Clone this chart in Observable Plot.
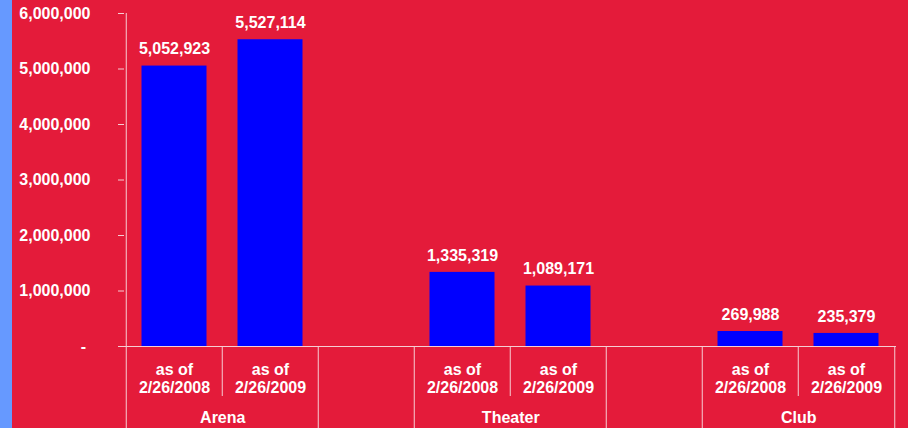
<!DOCTYPE html>
<html><head><meta charset="utf-8">
<script src="https://cdn.jsdelivr.net/npm/d3@7"></script>
<script src="https://cdn.jsdelivr.net/npm/@observablehq/plot@0.6"></script>
<style>
html,body{margin:0;padding:0;background:#E41B3A;overflow:hidden}
#wrap{position:relative;width:908px;height:428px}
#strip{position:absolute;left:0;top:0;width:12px;height:428px;background:#6699FF}
</style></head><body><div id="wrap"><div id="strip"></div></div>
<script>
const slots = ["A08","A09","gap1","T08","T09","gap2","C08","C09"];
const barSlots = ["A08","A09","T08","T09","C08","C09"];
const values = [5052923, 5527114, 1335319, 1089171, 269988, 235379];
const dateLabels = ["as of\n2/26/2008","as of\n2/26/2009","as of\n2/26/2008","as of\n2/26/2009","as of\n2/26/2008","as of\n2/26/2009"];
const groups = ["Arena","Theater","Club"];
const groupStartSlots = ["A08","T08","C08"];
const yTicks = [0, 1000000, 2000000, 3000000, 4000000, 5000000, 6000000];
const axisSlot = ["A08"];
const fullRuleLeftSlots = ["gap1","T08","gap2","C08"];
const fullRuleRightSlots = ["C09"];
const shortRuleSlots = ["A09","T09","C09"];

const W = 908, H = 428, mL = 124, mR = 12, mT = 13, mB = 82;
const step = (W - mL - mR) / slots.length;
const plotH = H - mT - mB;
const lineColor = "#f6cdd3";

const bars = barSlots.map((s, i) => ({slot: s, value: values[i], date: dateLabels[i]}));
const groupData = groups.map((g, i) => ({slot: groupStartSlots[i], name: g}));
const fmt = d3.format(",");

const chart = Plot.plot({
  width: W, height: H,
  marginLeft: mL, marginRight: mR, marginTop: mT, marginBottom: mB,
  style: {background: "transparent", color: "white", fontFamily: "'Liberation Sans', Arial, sans-serif", fontSize: "16px", fontWeight: "bold", overflow: "visible"},
  x: {domain: slots, padding: 0, axis: null},
  y: {domain: [0, 6000000], axis: null},
  marks: [
    Plot.barY(bars, {x: "slot", y: "value", fill: "#0000FF", insetLeft: 15.5, insetRight: 15.5}),
    Plot.axisY({ticks: yTicks, label: null, tickFormat: d => d === 0 ? "-\u00a0" : fmt(d), tickSize: 6, tickPadding: 28, stroke: lineColor, fill: "white", fontSize: 16, fontWeight: "bold"}),
    Plot.ruleY([0], {stroke: lineColor}),
    Plot.ruleX(axisSlot, {x: d => d, dx: -step / 2, stroke: lineColor, insetTop: 0, insetBottom: -mB}),
    Plot.ruleX(fullRuleLeftSlots, {x: d => d, dx: -step / 2, stroke: lineColor, insetTop: plotH, insetBottom: -mB}),
    Plot.ruleX(fullRuleRightSlots, {x: d => d, dx: step / 2, stroke: lineColor, insetTop: plotH, insetBottom: -mB}),
    Plot.ruleX(shortRuleSlots, {x: d => d, dx: -step / 2, stroke: lineColor, insetTop: plotH, insetBottom: -50}),
    Plot.text(bars, {x: "slot", y: "value", text: d => fmt(d.value), dy: -17, fill: "white", fontSize: 16, fontWeight: "bold"}),
    Plot.text(bars, {x: "slot", text: "date", frameAnchor: "bottom", dy: 32, lineAnchor: "middle", lineHeight: 1.125, fill: "white", fontSize: 16, fontWeight: "bold"}),
    Plot.text(groupData, {x: "slot", text: "name", dx: step / 2, frameAnchor: "bottom", dy: 76, fill: "white", fontSize: 16, fontWeight: "bold"})
  ]
});
document.getElementById("wrap").appendChild(chart);
</script>
</body></html>
